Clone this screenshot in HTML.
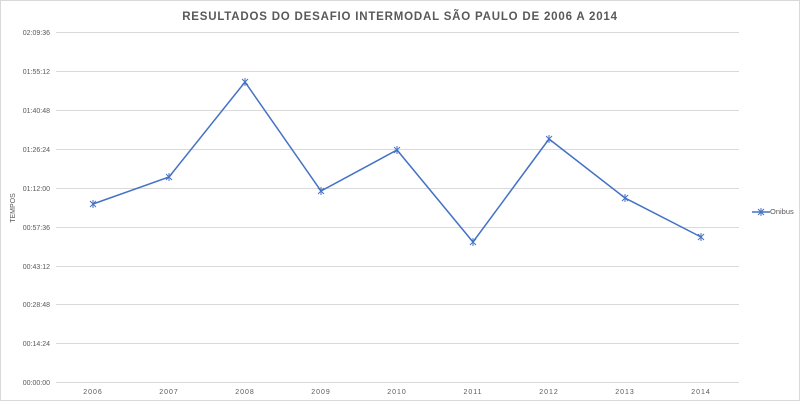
<!DOCTYPE html>
<html><head><style>body{margin:0;background:#fff}svg{display:block}</style></head><body>
<svg width="800" height="401" xmlns="http://www.w3.org/2000/svg" font-family="Liberation Sans, sans-serif">
<rect x="0.5" y="0.5" width="799" height="400" fill="#fff" stroke="#d9d9d9"/>
<text x="400" y="20" text-anchor="middle" font-size="11.5" font-weight="bold" fill="#595959" letter-spacing="0.8">RESULTADOS DO DESAFIO INTERMODAL SÃO PAULO DE 2006 A 2014</text>
<g stroke="#d9d9d9" stroke-width="1">
<line x1="56" x2="739" y1="32.5" y2="32.5"/><line x1="56" x2="739" y1="71.5" y2="71.5"/><line x1="56" x2="739" y1="110.5" y2="110.5"/><line x1="56" x2="739" y1="149.5" y2="149.5"/><line x1="56" x2="739" y1="188.5" y2="188.5"/><line x1="56" x2="739" y1="227.5" y2="227.5"/><line x1="56" x2="739" y1="266.5" y2="266.5"/><line x1="56" x2="739" y1="304.5" y2="304.5"/><line x1="56" x2="739" y1="343.5" y2="343.5"/><line x1="56" x2="739" y1="382.5" y2="382.5"/>
</g>
<g font-size="7" fill="#595959" text-anchor="end">
<text x="50" y="35">02:09:36</text><text x="50" y="74">01:55:12</text><text x="50" y="113">01:40:48</text><text x="50" y="152">01:26:24</text><text x="50" y="191">01:12:00</text><text x="50" y="230">00:57:36</text><text x="50" y="269">00:43:12</text><text x="50" y="307">00:28:48</text><text x="50" y="346">00:14:24</text><text x="50" y="385">00:00:00</text>
</g>
<text transform="translate(15,208) rotate(-90)" text-anchor="middle" font-size="7" fill="#595959">TEMPOS</text>
<g font-size="7" fill="#595959" text-anchor="middle" letter-spacing="1">
<text x="93" y="394">2006</text><text x="169" y="394">2007</text><text x="245" y="394">2008</text><text x="321" y="394">2009</text><text x="397" y="394">2010</text><text x="473" y="394">2011</text><text x="549" y="394">2012</text><text x="625" y="394">2013</text><text x="701" y="394">2014</text>
</g>
<polyline fill="none" stroke="#4472c4" stroke-width="1.5" points="93,204 169,177 245,82 321,191 397,150 473,242 549,139 625,198 701,237"/>
<g stroke="#4472c4" stroke-width="1">
<path d="M90,201l6,6M96,201l-6,6M93,200v8"/><path d="M166,174l6,6M172,174l-6,6M169,173v8"/><path d="M242,79l6,6M248,79l-6,6M245,78v8"/><path d="M318,188l6,6M324,188l-6,6M321,187v8"/><path d="M394,147l6,6M400,147l-6,6M397,146v8"/><path d="M470,239l6,6M476,239l-6,6M473,238v8"/><path d="M546,136l6,6M552,136l-6,6M549,135v8"/><path d="M622,195l6,6M628,195l-6,6M625,194v8"/><path d="M698,234l6,6M704,234l-6,6M701,233v8"/>
<line x1="752" x2="770" y1="212" y2="212" stroke-width="1.5"/><path d="M758,209l6,6M764,209l-6,6M761,208v8"/>
</g>
<text x="770" y="214" font-size="7.5" fill="#595959">Onibus</text>
</svg>
</body></html>
